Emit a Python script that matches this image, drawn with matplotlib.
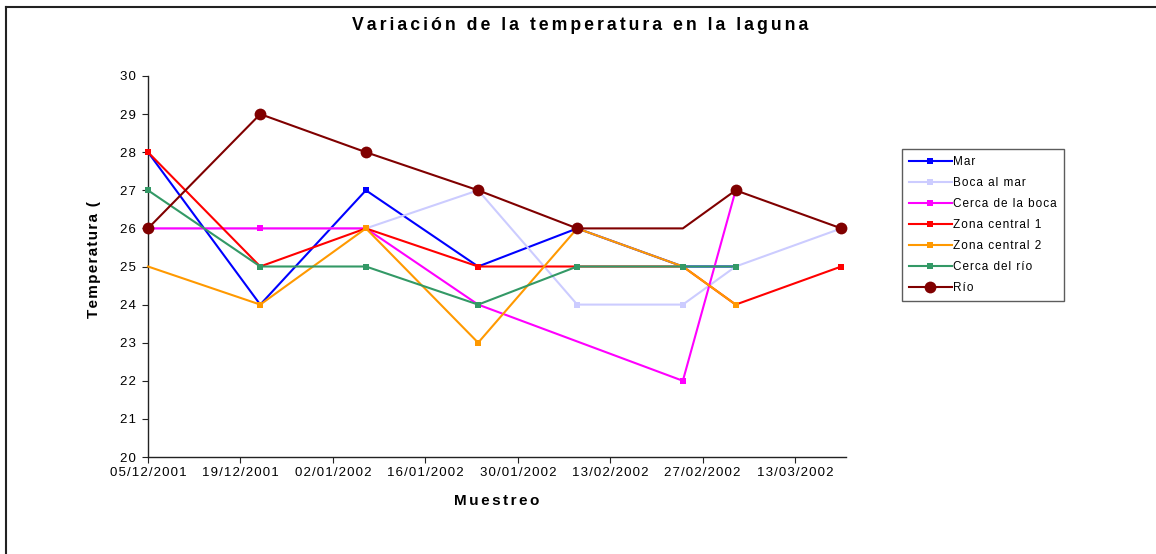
import pandas as pd
import numpy as np
import matplotlib
matplotlib.use("Agg")
import matplotlib.pyplot as plt
import matplotlib.dates as mdates
import matplotlib.ticker as mticker
from matplotlib.lines import Line2D

plt.rcParams["font.family"] = ["Liberation Sans", "DejaVu Sans"]

# sampling dates
fechas = ["2001-12-05", "2001-12-22", "2002-01-07", "2002-01-24",
          "2002-02-08", "2002-02-24", "2002-03-04", "2002-03-20"]

nan = np.nan
mar = [28, 24, 27, 25, 26, 25, 25, nan]
boca_al_mar = [26, 26, 26, 27, 24, 24, 25, 26]
cerca_boca = [26, 26, 26, 24, nan, 22, 27, nan]
zona_central_1 = [28, 25, 26, 25, 25, 25, 24, 25]
zona_central_2 = [25, 24, 26, 23, 26, 25, 24, nan]
cerca_rio = [27, 25, 25, 24, 25, 25, 25, nan]
rio = [26, 29, 28, 27, 26, 26, 27, 26]

tick_fechas = pd.date_range("2001-12-05", periods=8, freq="14D")


def spaced(s, n=1):
    # Excel-style letter spacing
    return ("\u200a" * n).join(s)


series = [
    ("Mar", mar, "#0000FF", "s", 5, None),
    ("Boca al mar", boca_al_mar, "#CCCCFF", "s", 5, None),
    ("Cerca de la boca", cerca_boca, "#FF00FF", "s", 5, None),
    ("Zona central 1", zona_central_1, "#FF0000", "s", 5, None),
    ("Zona central 2", zona_central_2, "#FF9900", "s", 5, [0]),
    ("Cerca del río", cerca_rio, "#339966", "s", 5, None),
    ("Río", rio, "#800000", "o", 8.5, [5]),
]

W, H = 1156, 554
fig = plt.figure(figsize=(W / 100, H / 100), dpi=100)
ax = fig.add_axes([148 / W, 1 - 457 / H, (846 - 148) / W, (457 - 76) / H])

x_all = pd.to_datetime(fechas)
handles = []
for name, vals, color, mk, ms, skip in series:
    s = pd.Series(vals, index=x_all).dropna()
    idx = [i for i in range(len(s)) if not skip or i not in skip]
    ax.plot(s.index, s.values, color=color, lw=1.5, marker=mk, ms=ms,
            markevery=idx, markeredgewidth=0, clip_on=False, zorder=3)
    handles.append(Line2D([], [], color=color, lw=1.5, marker=mk,
                          ms=ms, markeredgewidth=0, label=spaced(name)))

ax.set_xlim(x_all[0], x_all[-1] + pd.Timedelta(hours=17))
ax.set_ylim(20, 30)
ax.set_yticks(range(20, 31))
ax.set_xticks(tick_fechas)
ax.xaxis.set_major_formatter(
    mticker.FuncFormatter(lambda v, p: spaced(mdates.num2date(v).strftime("%d/%m/%Y"))))
ax.yaxis.set_major_formatter(mticker.FuncFormatter(lambda v, p: spaced(f"{v:.0f}")))

for sp in ["top", "right"]:
    ax.spines[sp].set_visible(False)
for sp in ["left", "bottom"]:
    ax.spines[sp].set_color("#222222")
    ax.spines[sp].set_linewidth(1.0)
ax.tick_params(axis="both", direction="out", length=4.3, width=0.8,
               color="#222222", labelsize=9.5)
ax.tick_params(axis="y", pad=4.5)
ax.tick_params(axis="x", pad=3)

ax.set_xlabel(spaced("Muestreo", 2), fontsize=11, fontweight="bold", labelpad=11)
ax.set_ylabel(spaced("Temperatura ("), fontsize=11, fontweight="bold")
ax.yaxis.set_label_coords(-0.068, 0.517)

fig.text(580 / W, 1 - 25 / H, spaced("Variación de la temperatura en la laguna", 2),
         ha="center", va="center", fontsize=12.7, fontweight="bold")

leg = fig.legend(handles=handles, loc="upper left",
                 bbox_to_anchor=(902 / W, 1 - 149 / H), fontsize=8.5,
                 frameon=True, fancybox=False, edgecolor="#333333",
                 handlelength=3.6, handletextpad=0.15, labelspacing=0.76,
                 borderpad=0.6, borderaxespad=0)
leg.get_frame().set_linewidth(1.0)

# chart border (top and left edges visible)
fig.add_artist(Line2D([6 / W, 6 / W], [0, 1 - 7 / H], transform=fig.transFigure,
                      color="#222222", lw=1.5))
fig.add_artist(Line2D([6 / W, 1], [1 - 7 / H, 1 - 7 / H], transform=fig.transFigure,
                      color="#222222", lw=1.5))

fig.savefig("out.png", dpi=100)
